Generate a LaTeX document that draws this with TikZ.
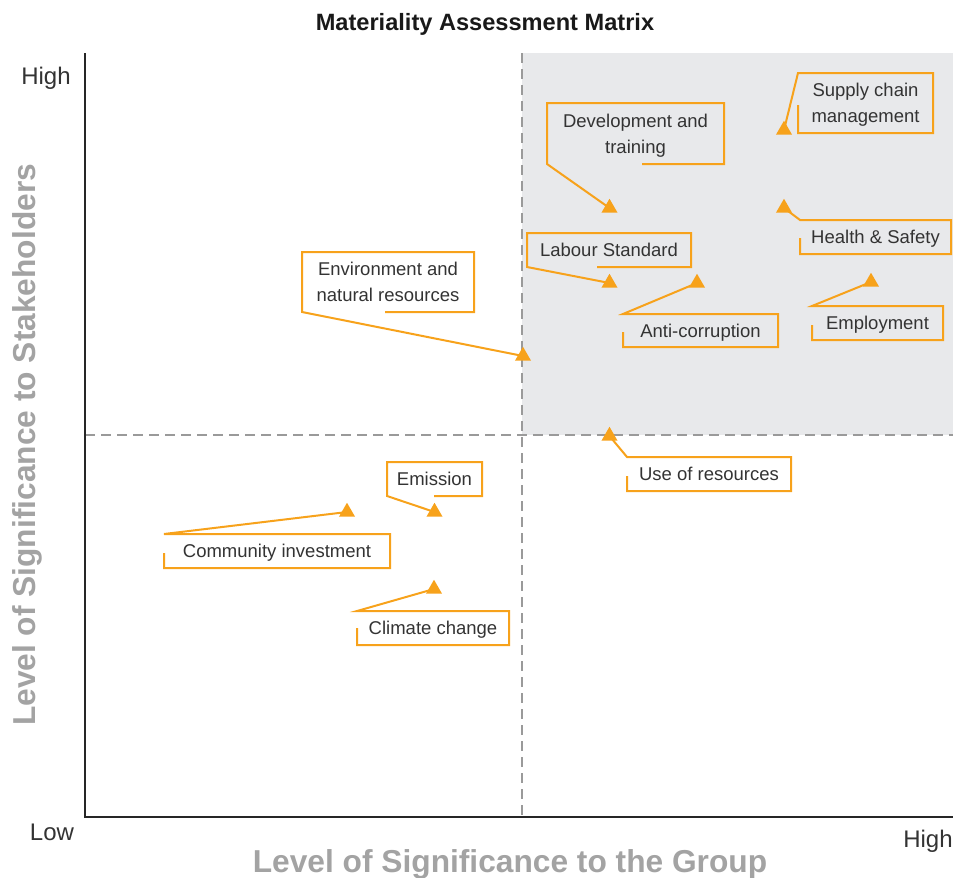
\documentclass[tikz,border=0pt]{standalone}
\usepackage{fontspec}
\setmainfont{Liberation Sans}
\usetikzlibrary{%
    shapes.geometric,%
    calc,%
    positioning%
}
\definecolor{matorange}{HTML}{F7A21B}
\definecolor{matgrey}{HTML}{E8E9EB}
\definecolor{dashgrey}{HTML}{9A9A9A}
\definecolor{axisgrey}{HTML}{A3A3A3}
\definecolor{labeltext}{HTML}{333333}
\tikzset{
    issue/.style={font=\fontsize{18.5}{26}\selectfont, text=labeltext, align=center, inner sep=2pt, outer sep=0pt, text depth=0pt},
    pin mark/.style={regular polygon, regular polygon sides=3, fill=matorange, inner sep=0pt, outer sep=0pt, minimum size=18.5pt},
    leader/.style={matorange, line width=2pt},
    quadrant/.style={dashgrey, line width=2.5pt, dash pattern=on 10pt off 6pt},
    level/.style={font=\fontsize{24}{28}\selectfont, text=labeltext},
    axis title/.style={font=\bfseries\fontsize{31.7}{36}\selectfont, text=axisgrey}
}

\begin{document}
\begin{tikzpicture}[x=1pt, y=-1pt]
				\useasboundingbox (0,0) rectangle (953,878);

				% high / high quadrant
				\fill[matgrey] (522,53) rectangle (953,435);
				\draw[quadrant] (522,53) -- (522,817);
				\draw[quadrant] (85,435) -- (953,435);

				\coordinate (ytop) at (85,53);
				\coordinate (O) at (85,817);
				\coordinate (xend) at (953,817);
				\draw[black!85, line width=2.8pt] (ytop) -- (O) -- (xend);

				\node[font=\bfseries\fontsize{23.6}{28}\selectfont, text=black!90] (title) at (485,24) {Materiality Assessment Matrix};
				\node[level] (yhigh) at (46,78) {High};
				\node[level] (xlow) at (52,832) {Low};
				\node[level] (xhigh) at (928,841) {High};
				\node[axis title, rotate=90] (ylabel) at (27,445) {Level of Significance to Stakeholders};
				\node[axis title] (xlabel) at (510,864) {Level of Significance to the Group};

				% issues, box first, then the mark it points to
				\node[issue, minimum width=135pt, minimum height=60pt] (supply) at (865.5,103) {Supply chain\\management};
				\node[pin mark] (supplyM) at (784,130) {};
				\draw[leader] ([yshift=28pt]supply.south west) -- (supply.south west) -- (supply.south east) -- (supply.north east) -- (supply.north west) -- (supplyM.center);

				\node[issue, minimum width=177pt, minimum height=61pt] (devtrain) at (635.5,133.5) {Development and\\training};
				\node[pin mark] (devtrainM) at (609.5,208) {};
				\draw[leader] ([xshift=-82pt]devtrain.south east) -- (devtrain.south east) -- (devtrain.north east) -- (devtrain.north west) -- (devtrain.south west) -- (devtrainM.center);

				\node[issue, minimum width=151pt, minimum height=34pt] (health) at (875.5,237) {Health \& Safety};
				\node[pin mark] (healthM) at (784,208) {};
				\draw[leader] ([yshift=16pt]health.south west) -- (health.south west) -- (health.south east) -- (health.north east) -- (health.north west) -- (healthM.center);

				\node[issue, minimum width=164pt, minimum height=34pt] (labour) at (609,250) {Labour Standard};
				\node[pin mark] (labourM) at (609.5,283) {};
				\draw[leader] ([xshift=-94pt]labour.south east) -- (labour.south east) -- (labour.north east) -- (labour.north west) -- (labour.south west) -- (labourM.center);

				\node[issue, minimum width=155pt, minimum height=33pt] (anticorr) at (700.5,330.5) {Anti-corruption};
				\node[pin mark] (anticorrM) at (697,283) {};
				\draw[leader] ([yshift=15pt]anticorr.south west) -- (anticorr.south west) -- (anticorr.south east) -- (anticorr.north east) -- (anticorr.north west) -- (anticorrM.center);

				\node[issue, minimum width=131pt, minimum height=34pt] (employ) at (877.5,323) {Employment};
				\node[pin mark] (employM) at (871,282) {};
				\draw[leader] ([yshift=15pt]employ.south west) -- (employ.south west) -- (employ.south east) -- (employ.north east) -- (employ.north west) -- (employM.center);

				\node[issue, minimum width=172pt, minimum height=60pt] (environ) at (388,282) {Environment and\\natural resources};
				\node[pin mark] (environM) at (523,356) {};
				\draw[leader] ([xshift=-89pt]environ.south east) -- (environ.south east) -- (environ.north east) -- (environ.north west) -- (environ.south west) -- (environM.center);

				\node[issue, minimum width=95pt, minimum height=34pt] (emission) at (434.5,479) {Emission};
				\node[pin mark] (emissionM) at (434.5,512) {};
				\draw[leader] ([xshift=-48pt]emission.south east) -- (emission.south east) -- (emission.north east) -- (emission.north west) -- (emission.south west) -- (emissionM.center);

				\node[issue, minimum width=226pt, minimum height=34pt] (community) at (277,551) {Community investment};
				\node[pin mark] (communityM) at (347,512) {};
				\draw[leader] ([yshift=15pt]community.south west) -- (community.south west) -- (community.south east) -- (community.north east) -- (community.north west) -- (communityM.center);

				\node[issue, minimum width=152pt, minimum height=34pt] (climate) at (433,628) {Climate change};
				\node[pin mark] (climateM) at (434,589) {};
				\draw[leader] ([yshift=17pt]climate.south west) -- (climate.south west) -- (climate.south east) -- (climate.north east) -- (climate.north west) -- (climateM.center);

				\node[issue, minimum width=164pt, minimum height=34pt] (resources) at (709,474) {Use of resources};
				\node[pin mark] (resourcesM) at (609.5,436) {};
				\draw[leader] ([yshift=15pt]resources.south west) -- (resources.south west) -- (resources.south east) -- (resources.north east) -- (resources.north west) -- (resourcesM.center);
			\end{tikzpicture}
\end{document}
